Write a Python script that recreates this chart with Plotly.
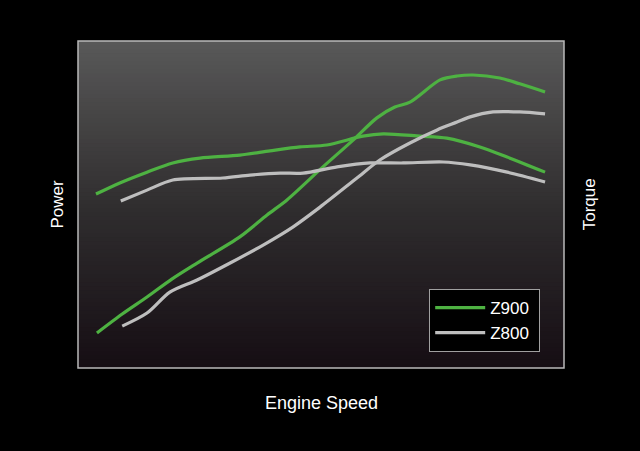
import plotly.graph_objects as go

# Engine speed on a relative 0-100 scale, outputs on a relative 0-100 scale
z900_power_x = [3.9, 9.1, 14.2, 19.3, 24.5, 33.3, 38.9, 43.0, 50.4, 56.6, 61.5, 65.2, 68.3, 74.5, 78.0, 81.3, 86.8, 90.9, 96.1]
z900_power_y = [10.7, 16.5, 21.7, 27.2, 32.1, 40.1, 46.8, 51.4, 61.5, 69.7, 76.5, 79.8, 81.3, 88.1, 89.3, 89.6, 88.7, 86.9, 84.4]

z900_torque_x = [3.7, 8.6, 14.2, 19.5, 25.1, 33.3, 39.5, 45.7, 51.2, 58.6, 62.8, 70.4, 75.9, 82.7, 88.3, 96.1]
z900_torque_y = [53.2, 56.6, 59.9, 62.7, 64.2, 65.1, 66.4, 67.6, 68.2, 70.9, 71.6, 70.9, 70.3, 67.6, 64.5, 59.9]

z800_power_x = [9.1, 14.2, 18.9, 24.5, 31.3, 38.1, 44.2, 49.8, 57.4, 62.1, 68.3, 73.9, 78.0, 80.7, 85.4, 90.9, 96.1]
z800_power_y = [12.8, 16.8, 23.2, 26.9, 32.1, 37.6, 43.1, 49.2, 58.1, 63.6, 68.8, 72.8, 75.2, 76.8, 78.3, 78.3, 77.7]

z800_torque_x = [8.8, 14.2, 19.5, 29.8, 35.4, 41.6, 46.3, 53.3, 60.1, 66.9, 75.1, 80.7, 88.3, 96.1]
z800_torque_y = [51.1, 54.4, 57.5, 58.1, 59.0, 59.6, 59.6, 61.5, 62.7, 62.7, 63.0, 62.1, 59.9, 56.9]

GREEN = "rgb(78,178,66)"
GREY = "rgb(190,190,190)"
FONT = "Liberation Sans, Arial, sans-serif"

fig = go.Figure()

series = [
    ("Z900", z900_power_x, z900_power_y, GREEN, True),
    ("Z900", z900_torque_x, z900_torque_y, GREEN, False),
    ("Z800", z800_power_x, z800_power_y, GREY, True),
    ("Z800", z800_torque_x, z800_torque_y, GREY, False),
]
for name, xs, ys, col, show in series:
    fig.add_trace(go.Scatter(
        x=xs, y=ys, mode="lines", name=name + "\u00a0", legendgroup=name, showlegend=show,
        line=dict(color=col, width=3.2, shape="spline", smoothing=0.8),
    ))

# gradient plot background: grey at top fading to near-black
top, mid, bot = (88, 88, 88), (48, 46, 47), (22, 14, 20)
n = 80
shapes = []
for i in range(n):
    t = i / (n - 1)
    if t < 0.5:
        a, b, u = top, mid, t / 0.5
    else:
        a, b, u = mid, bot, (t - 0.5) / 0.5
    c = tuple(int(round(a[k] + (b[k] - a[k]) * u)) for k in range(3))
    shapes.append(dict(
        type="rect", xref="paper", yref="paper", layer="below",
        x0=0, x1=1, y0=max(0, 1 - (i + 1) / n - 0.006), y1=1 - i / n,
        fillcolor="rgb(%d,%d,%d)" % c, line=dict(width=0),
    ))
shapes.append(dict(type="rect", xref="paper", yref="paper", x0=0, x1=1, y0=0, y1=1,
                   line=dict(color="rgb(185,185,185)", width=1.5), layer="above"))

fig.update_layout(
    width=640, height=451,
    paper_bgcolor="black", plot_bgcolor="black",
    margin=dict(l=78, r=76, t=41, b=83),
    font=dict(family=FONT, color="white"),
    shapes=shapes,
    xaxis=dict(range=[0, 100], visible=False, fixedrange=True),
    yaxis=dict(range=[0, 100], visible=False, fixedrange=True),
    legend=dict(
        x=0.951, y=0.049, xanchor="right", yanchor="bottom",
        bgcolor="black", bordercolor="rgb(160,160,160)", borderwidth=1,
        font=dict(size=17, color="white", family=FONT),
        itemwidth=50, tracegroupgap=0,
    ),
    annotations=[
        dict(text="Power", xref="paper", yref="paper", x=-0.043, y=0.5, textangle=-90,
             xanchor="center", yanchor="middle",
             showarrow=False, font=dict(size=17, color="white")),
        dict(text="Torque", xref="paper", yref="paper", x=1.053, y=0.5, textangle=-90,
             xanchor="center", yanchor="middle",
             showarrow=False, font=dict(size=17, color="white")),
        dict(text="Engine Speed", xref="paper", yref="paper", x=0.5, y=-0.107,
             xanchor="center", yanchor="middle",
             showarrow=False, font=dict(size=18, color="white")),
    ],
)

fig.write_html("out.html", config={"displayModeBar": False},
               post_script="document.body.style.margin='0';document.body.style.background='black';")
